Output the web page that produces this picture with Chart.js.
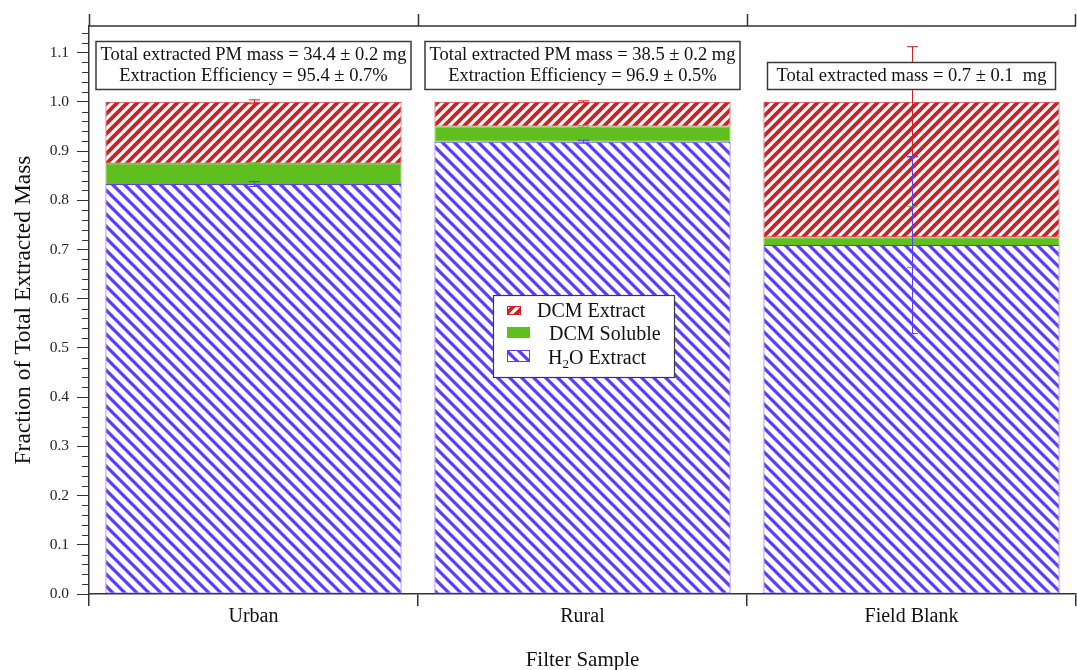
<!DOCTYPE html>
<html>
<head>
<meta charset="utf-8">
<script src="https://cdn.jsdelivr.net/npm/chart.js@4.4.1/dist/chart.umd.min.js"></script>
<style>
  html, body { margin: 0; padding: 0; background: #ffffff; }
  #wrap { width: 1077px; height: 670px; }
</style>
</head>
<body>
<div id="wrap"><canvas id="c" width="1077" height="670"></canvas></div>
<script>
// Filter samples and mass fractions of each extract (stacked to 1.0)
const samples = ['Urban', 'Rural', 'Field Blank'];
const h2oExtract = [0.833, 0.919, 0.709];
const dcmSoluble = [0.041, 0.031, 0.016];
const dcmExtract = [0.126, 0.050, 0.275];

// Uncertainties, drawn at the top of each stacked segment
const h2oErr = [0.005, 0.003, 0.180];
const solubleErr = [0.002, 0.002, 0.062];
const dcmErr = [0.004, 0.002, 0.112];

// Text of the summary box above each bar
const summaryText = [
  ['Total extracted PM mass = 34.4 \u00b1 0.2 mg', 'Extraction Efficiency = 95.4 \u00b1 0.7%'],
  ['Total extracted PM mass = 38.5 \u00b1 0.2 mg', 'Extraction Efficiency = 96.9 \u00b1 0.5%'],
  ['Total extracted mass = 0.7 \u00b1 0.1  mg']
];

const yMin = 0;
const yMax = 1.154;
const yMajorStep = 0.1;
const yMinorStep = 0.02;

const SERIF = '"Liberation Serif", "Times New Roman", serif';
const RED = '#d21f22';
const GREEN = '#5ebf1e';
const BLUE = '#5a3ef2';
const AXIS = '#333333';

const canvas = document.getElementById('c');
const ctx0 = canvas.getContext('2d');

// Diagonal hatch fills
function hatch(color, size, width, dir) {
  const t = document.createElement('canvas');
  t.width = size; t.height = size;
  const g = t.getContext('2d');
  g.fillStyle = '#ffffff';
  g.fillRect(0, 0, size, size);
  g.strokeStyle = color;
  g.lineWidth = width;
  g.beginPath();
  for (let k = -1; k <= 1; k++) {
    if (dir === 'down') {
      g.moveTo(k * size - 2, -2);
      g.lineTo(k * size + size + 2, size + 2);
    } else {
      g.moveTo(k * size - 2, size + 2);
      g.lineTo(k * size + size + 2, -2);
    }
  }
  g.stroke();
  return ctx0.createPattern(t, 'repeat');
}
const redHatch = hatch(RED, 10, 3.8, 'up');
const blueHatch = hatch(BLUE, 12, 3.2, 'down');

// Error bars
const errorBarPlugin = {
  id: 'errorBars',
  afterDatasetsDraw(chart) {
    const ctx = chart.ctx;
    const xs = chart.scales.x, ys = chart.scales.y;
    const cap = 5.5;
    function bar(i, center, err, color) {
      const x = Math.round(xs.getPixelForValue(i)) + 0.5;
      const t = ys.getPixelForValue(center + err);
      const b = ys.getPixelForValue(center - err);
      ctx.save();
      ctx.strokeStyle = color;
      ctx.lineWidth = 1;
      ctx.beginPath();
      ctx.moveTo(x, t); ctx.lineTo(x, b);
      ctx.moveTo(x - cap, t); ctx.lineTo(x + cap, t);
      ctx.moveTo(x - cap, b); ctx.lineTo(x + cap, b);
      ctx.stroke();
      ctx.restore();
    }
    samples.forEach((s, i) => {
      const top1 = h2oExtract[i];
      const top2 = top1 + dcmSoluble[i];
      const top3 = top2 + dcmExtract[i];
      bar(i, top2, solubleErr[i], GREEN);
      bar(i, top3, dcmErr[i], RED);
      bar(i, top1, h2oErr[i], BLUE);
    });
  }
};

// Summary boxes above the bars
const summaryPlugin = {
  id: 'summaries',
  afterDatasetsDraw(chart) {
    const ctx = chart.ctx;
    const xs = chart.scales.x, ys = chart.scales.y;
    ctx.save();
    ctx.font = '18.5px ' + SERIF;
    summaryText.forEach((lines, i) => {
      const cx = xs.getPixelForValue(i);
      const pad = lines.length > 1 ? 4.5 : 9;
      const w = Math.max(...lines.map(l => ctx.measureText(l).width)) + 2 * pad;
      const h = 6 + 21 * lines.length;
      const bottom = ys.getPixelForValue(1.025);
      const top = bottom - h;
      const left = cx - w / 2;
      ctx.fillStyle = '#ffffff';
      ctx.fillRect(left, top, w, h);
      ctx.strokeStyle = '#3a3a3a';
      ctx.lineWidth = 1.5;
      ctx.strokeRect(left, top, w, h);
      ctx.fillStyle = '#111111';
      ctx.textAlign = 'center';
      ctx.textBaseline = 'alphabetic';
      lines.forEach((l, j) => {
        ctx.fillText(l, cx, bottom - 8 - 21 * (lines.length - 1 - j));
      });
    });
    ctx.restore();
  }
};

// Legend box in the middle of the plot
const legendPlugin = {
  id: 'boxLegend',
  afterDatasetsDraw(chart) {
    const ctx = chart.ctx;
    const L = 493, T = 295, W = 181, H = 82;
    ctx.save();
    ctx.fillStyle = '#ffffff';
    ctx.fillRect(L, T, W, H);
    ctx.strokeStyle = '#3a3a3a';
    ctx.lineWidth = 1.2;
    ctx.strokeRect(L + 0.5, T + 0.5, W, H);

    // swatches
    ctx.fillStyle = redHatch;
    ctx.fillRect(507, 306, 14, 9);
    ctx.strokeStyle = RED; ctx.lineWidth = 1;
    ctx.strokeRect(507.5, 306.5, 13, 8);

    ctx.fillStyle = GREEN;
    ctx.fillRect(507, 327, 23, 11);

    ctx.fillStyle = blueHatch;
    ctx.fillRect(507, 350, 23, 12);
    ctx.strokeStyle = BLUE;
    ctx.strokeRect(507.5, 350.5, 22, 11);

    ctx.fillStyle = '#111111';
    ctx.textAlign = 'left';
    ctx.textBaseline = 'alphabetic';
    ctx.font = '20px ' + SERIF;
    ctx.fillText('DCM Extract', 537, 317);
    ctx.fillText('DCM Soluble', 549, 340);
    // H2O with subscript
    let x = 548;
    ctx.fillText('H', x, 364);
    x += ctx.measureText('H').width;
    ctx.font = '13px ' + SERIF;
    ctx.fillText('2', x, 368);
    x += ctx.measureText('2').width;
    ctx.font = '20px ' + SERIF;
    ctx.fillText('O Extract', x, 364);
    ctx.restore();
  }
};

// Top frame line, category boundary ticks on top and minor y ticks
const framePlugin = {
  id: 'frame',
  afterDraw(chart) {
    const ctx = chart.ctx;
    const a = chart.chartArea;
    const ys = chart.scales.y;
    ctx.save();
    ctx.strokeStyle = AXIS;
    ctx.lineWidth = 1.5;
    ctx.beginPath();
    ctx.moveTo(a.left, a.top);
    ctx.lineTo(a.right, a.top);
    const w = (a.right - a.left) / samples.length;
    for (let i = 0; i <= samples.length; i++) {
      const x = Math.round(a.left + i * w) + (i === samples.length ? -0.5 : 0.5);
      ctx.moveTo(x, a.top);
      ctx.lineTo(x, a.top - 12);
    }
    ctx.stroke();
    ctx.lineWidth = 1;
    ctx.beginPath();
    const n = Math.floor((yMax - yMin) / yMinorStep + 1e-9);
    for (let k = 0; k <= n; k++) {
      if (k % 5 === 0) continue;
      const v = yMin + k * yMinorStep;
      const y = Math.round(ys.getPixelForValue(v)) + 0.5;
      ctx.moveTo(a.left - 7, y);
      ctx.lineTo(a.left, y);
    }
    ctx.stroke();
    ctx.restore();
  }
};

new Chart(canvas, {
  type: 'bar',
  data: {
    labels: samples,
    datasets: [
      { label: 'H2O Extract', data: h2oExtract, backgroundColor: blueHatch, borderColor: BLUE, borderWidth: 1, borderSkipped: false },
      { label: 'DCM Soluble', data: dcmSoluble, backgroundColor: GREEN, borderColor: GREEN, borderWidth: 1, borderSkipped: false },
      { label: 'DCM Extract', data: dcmExtract, backgroundColor: redHatch, borderColor: RED, borderWidth: 1, borderSkipped: false }
    ]
  },
  options: {
    responsive: false,
    animation: false,
    devicePixelRatio: 1,
    layout: { padding: { top: 26, right: 1, left: 0, bottom: 0 } },
    plugins: { legend: { display: false }, tooltip: { enabled: false } },
    datasets: { bar: { barPercentage: 0.9, categoryPercentage: 1.0 } },
    scales: {
      x: {
        stacked: true,
        grid: { offset: true, drawOnChartArea: false, drawTicks: true, tickLength: 12, color: AXIS, lineWidth: 1.5 },
        border: { display: true, color: AXIS, width: 1.5 },
        ticks: { color: '#111111', font: { family: SERIF, size: 20 }, padding: -1 },
        title: { display: true, text: 'Filter Sample', color: '#111111', font: { family: SERIF, size: 21, lineHeight: 1 }, padding: { top: 0, bottom: -1 } },
        afterFit(scale) { scale.height = 76; }
      },
      y: {
        stacked: true,
        min: yMin,
        max: yMax,
        grid: { drawOnChartArea: false, drawTicks: true, tickLength: 12, color: AXIS, lineWidth: 1 },
        border: { display: true, color: AXIS, width: 1.5 },
        ticks: {
          stepSize: yMajorStep,
          includeBounds: false,
          color: '#222222',
          font: { family: SERIF, size: 15.5 },
          padding: 8,
          callback: v => Number(v).toFixed(1)
        },
        title: { display: true, text: 'Fraction of Total Extracted Mass', color: '#111111', font: { family: SERIF, size: 23.5, lineHeight: 1 }, padding: { top: 12, bottom: 0 } },
        afterFit(scale) { scale.width = 89; }
      }
    }
  },
  plugins: [errorBarPlugin, summaryPlugin, legendPlugin, framePlugin]
});
</script>
</body>
</html>
